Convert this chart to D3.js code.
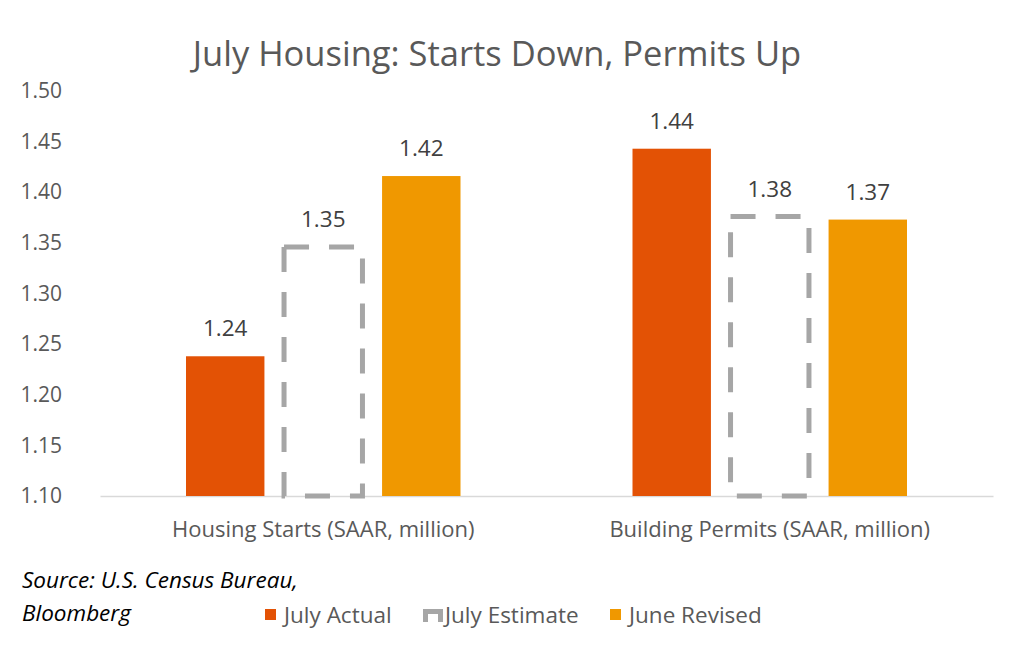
<!DOCTYPE html>
<html>
<head>
<meta charset="utf-8">
<script src="https://cdn.jsdelivr.net/npm/d3@7"></script>
<style>
  body { margin: 0; background: #fff; }
  text { font-family: "Open Sans", "Noto Sans", sans-serif; }
</style>
</head>
<body>
<script>
// chart data
var categories = ["Housing Starts (SAAR, million)", "Building Permits (SAAR, million)"];
var seriesNames = ["July Actual", "July Estimate", "June Revised"];
var julyActual = [1.238, 1.443];
var julyEstimate = [1.346, 1.376];
var juneRevised = [1.416, 1.373];
var yTicks = [1.10, 1.15, 1.20, 1.25, 1.30, 1.35, 1.40, 1.45, 1.50];
var title = "July Housing: Starts Down, Permits Up";
var sourceLines = ["Source: U.S. Census Bureau,", "Bloomberg"];

var width = 1024, height = 658;
var margin = {top: 91, right: 31, bottom: 162, left: 100};
var colors = {"July Actual": "#E35205", "July Estimate": "#A6A6A6", "June Revised": "#F09800"};

var svg = d3.select("body").append("svg")
  .attr("width", width)
  .attr("height", height);

var x0 = d3.scaleBand()
  .domain(categories)
  .range([margin.left, width - margin.right])
  .paddingInner(0)
  .paddingOuter(0);

var x1 = d3.scaleBand()
  .domain(seriesNames)
  .range([86, x0.bandwidth() - 86])
  .paddingInner(0.2)
  .paddingOuter(0);

var y = d3.scaleLinear()
  .domain([1.10, 1.50])
  .range([height - margin.bottom, margin.top]);

var fmt = d3.format(".2f");

// title
svg.append("text")
  .attr("x", 497)
  .attr("y", 66)
  .attr("text-anchor", "middle")
  .style("font-size", "34.5px")
  .style("fill", "#595959")
  .text(title);

// y axis (labels only)
var yAxis = svg.append("g")
  .attr("transform", "translate(62,0)")
  .call(d3.axisLeft(y).tickValues(yTicks).tickFormat(fmt).tickSize(0).tickPadding(0));
yAxis.select(".domain").remove();
yAxis.selectAll("text")
  .style("font-size", "21px")
  .style("fill", "#595959")
  .style("font-family", "'Open Sans', sans-serif");

// x axis line
var xAxis = svg.append("g")
  .attr("transform", "translate(0," + y(1.10) + ")")
  .call(d3.axisBottom(x0).tickSize(0).tickPadding(25));
xAxis.select(".domain").attr("stroke", "#D9D9D9").attr("stroke-width", 1.5);
xAxis.selectAll("text")
  .style("font-size", "22px")
  .style("fill", "#595959")
  .style("font-family", "'Open Sans', sans-serif");

var rows = categories.map(function(c, i) {
  return {cat: c, values: [
    {name: "July Actual", value: julyActual[i]},
    {name: "July Estimate", value: julyEstimate[i]},
    {name: "June Revised", value: juneRevised[i]}
  ]};
});

var groups = svg.append("g").selectAll("g")
  .data(rows)
  .enter().append("g")
  .attr("transform", function(d) { return "translate(" + x0(d.cat) + ",0)"; });

groups.selectAll("rect")
  .data(function(d) { return d.values; })
  .enter().append("rect")
  .attr("x", function(d) { return x1(d.name); })
  .attr("y", function(d) { return y(d.value); })
  .attr("width", x1.bandwidth())
  .attr("height", function(d) { return y(1.10) - y(d.value); })
  .attr("fill", function(d) { return d.name == "July Estimate" ? "none" : colors[d.name]; })
  .attr("stroke", function(d) { return d.name == "July Estimate" ? colors[d.name] : "none"; })
  .attr("stroke-width", 5)
  .attr("stroke-dasharray", function(d) { return d.name == "July Estimate" ? "25,20" : null; });

// value labels
groups.selectAll(".lbl")
  .data(function(d) { return d.values; })
  .enter().append("text")
  .attr("class", "lbl")
  .attr("x", function(d) { return x1(d.name) + x1.bandwidth() / 2; })
  .attr("y", function(d) { return y(d.value) - 20; })
  .attr("text-anchor", "middle")
  .style("font-size", "22.5px")
  .style("fill", "#404040")
  .text(function(d) { return fmt(d.value); });

// source note
svg.append("g").selectAll("text")
  .data(sourceLines)
  .enter().append("text")
  .attr("x", 22)
  .attr("y", function(d, i) { return 588 + i * 33; })
  .style("font-size", "22.5px")
  .style("font-style", "italic")
  .style("fill", "#000")
  .text(function(d) { return d; });

// legend
var legendX = [265, 423, 610];
var legend = svg.append("g").selectAll("g")
  .data(seriesNames)
  .enter().append("g")
  .attr("transform", function(d, i) { return "translate(" + legendX[i] + ",609)"; });

legend.filter(function(d) { return d != "July Estimate"; })
  .append("rect")
  .attr("width", 11)
  .attr("height", 11)
  .attr("fill", function(d) { return colors[d]; });

legend.filter(function(d) { return d == "July Estimate"; })
  .append("path")
  .attr("d", "M2.5,13V2.5H17.5V13")
  .attr("fill", "none")
  .attr("stroke", colors["July Estimate"])
  .attr("stroke-width", 5);

legend.append("text")
  .attr("x", function(d) { return d == "July Estimate" ? 22 : 19; })
  .attr("y", 14)
  .style("font-size", "22.5px")
  .style("fill", "#595959")
  .text(function(d) { return d; });
</script>
</body>
</html>
